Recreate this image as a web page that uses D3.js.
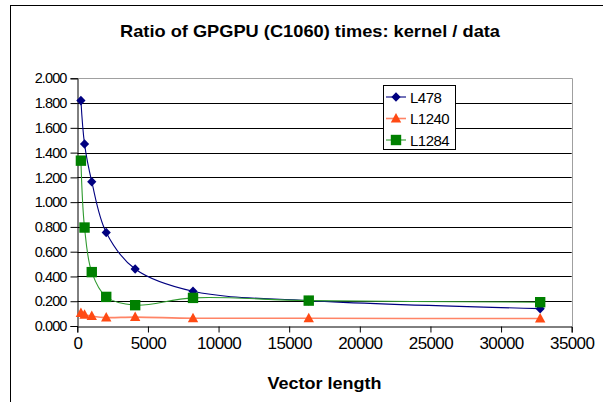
<!DOCTYPE html>
<html><head><meta charset="utf-8">
<script src="https://cdn.jsdelivr.net/npm/d3@7"></script>
<style>
html,body{margin:0;padding:0;background:#fff;}
svg{display:block;font-family:"Liberation Sans",Arial,sans-serif;}
</style></head>
<body>
<svg id="chart" width="603" height="402"></svg>
<script>
const vectorLength = [256, 512, 1024, 2048, 4096, 8192, 16384, 32768];
const L478  = [1.82, 1.47, 1.165, 0.755, 0.46, 0.28, 0.205, 0.14];
const L1240 = [0.105, 0.09, 0.08, 0.068, 0.072, 0.063, 0.062, 0.06];
const L1284 = [1.335, 0.795, 0.435, 0.235, 0.168, 0.227, 0.205, 0.192];
const seriesNames = ["L478", "L1240", "L1284"];
const xTicks = [0, 5000, 10000, 15000, 20000, 25000, 30000, 35000];
const yTicks = [0, 0.2, 0.4, 0.6, 0.8, 1.0, 1.2, 1.4, 1.6, 1.8, 2.0];
const titleText = "Ratio of GPGPU (C1060) times: kernel / data";
const xTitle = "Vector length";

const series = [
  {name: seriesNames[0], values: L478,  line: "#000080", fill: "#000080", shape: "diamond", lw: 1.1},
  {name: seriesNames[1], values: L1240, line: "#ff8466", fill: "#ff4a14", shape: "triangle", lw: 1.6},
  {name: seriesNames[2], values: L1284, line: "#2e9a2e", fill: "#008000", shape: "square", lw: 1.1}
];

const svg = d3.select("#chart");
const pLeft = 77.3, pRight = 571.7, pTop = 78.3, pBottom = 326;
const x = d3.scaleLinear().domain([0, 35000]).range([pLeft, pRight]);
const y = d3.scaleLinear().domain([0, 2]).range([pBottom, pTop]);

// chart border
svg.append("rect").attr("x", 10.5).attr("y", 5.5).attr("width", 600).attr("height", 500)
  .attr("fill", "none").attr("stroke", "#000").attr("stroke-width", 1);

// title
svg.append("text").attr("x", 310).attr("y", 37).attr("text-anchor", "middle")
  .attr("font-weight", "bold").attr("font-size", 17).attr("textLength", 380)
  .attr("lengthAdjust", "spacingAndGlyphs").text(titleText);

// gridlines
svg.append("g").selectAll("line").data(yTicks.filter(v => v > 0 && v < 2)).join("line")
  .attr("x1", pLeft).attr("x2", pRight)
  .attr("y1", d => Math.round(y(d)) + 0.5).attr("y2", d => Math.round(y(d)) + 0.5)
  .attr("stroke", "#000").attr("stroke-width", 1);

// plot border top/right (gray)
svg.append("path")
  .attr("d", `M${pLeft},${Math.round(pTop)+0.5}H${Math.round(pRight)+0.5}V${pBottom}`)
  .attr("fill", "none").attr("stroke", "#a0a0a0").attr("stroke-width", 1);

// axes
const xAxis = d3.axisBottom(x).tickValues(xTicks).tickFormat(d => String(d)).tickSize(6).tickPadding(6);
const gx = svg.append("g").attr("transform", `translate(0,${Math.round(pBottom)+0.5})`).call(xAxis);
gx.select(".domain").attr("stroke", "#000");
gx.selectAll(".tick line").attr("stroke", "#000");
gx.selectAll(".tick text").attr("font-size", 17).attr("fill", "#000")
  .attr("font-family", "Liberation Sans, Arial, sans-serif").attr("letter-spacing", -0.6)
  .attr("dy", "0.6em");

const yAxis = d3.axisLeft(y).tickValues(yTicks).tickFormat(d3.format(".3f")).tickSize(7).tickPadding(4);
const gy = svg.append("g").attr("transform", `translate(${Math.round(pLeft)+0.5},0)`).call(yAxis);
gy.select(".domain").attr("stroke", "#000");
gy.selectAll(".tick line").attr("stroke", "#000");
gy.selectAll(".tick text").attr("font-size", 14.5).attr("fill", "#000")
  .attr("font-family", "Liberation Sans, Arial, sans-serif").attr("letter-spacing", -0.9);

// x title
svg.append("text").attr("x", (pLeft + pRight) / 2).attr("y", 389).attr("text-anchor", "middle")
  .attr("font-weight", "bold").attr("font-size", 17).attr("textLength", 114)
  .attr("lengthAdjust", "spacingAndGlyphs").text(xTitle);

function markerPath(shape) {
  if (shape === "diamond") return "M0,-4.8L4.6,0L0,4.8L-4.6,0Z";
  if (shape === "triangle") return "M0,-5.5L5.2,4L-5.2,4Z";
  return "M-5.2,-5.2H5.2V5.2H-5.2Z";
}

const lineGen = d3.line().x(d => x(d[0])).y(d => y(d[1])).curve(d3.curveCatmullRom.alpha(0.5));

series.forEach(s => {
  const pts = vectorLength.map((v, i) => [v, s.values[i]]);
  svg.append("path").datum(pts).attr("d", lineGen).attr("fill", "none")
    .attr("stroke", s.line).attr("stroke-width", s.lw);
  svg.append("g").selectAll("path").data(pts).join("path")
    .attr("transform", d => `translate(${x(d[0])},${y(d[1])})`)
    .attr("d", markerPath(s.shape)).attr("fill", s.fill);
});

// legend
const lg = svg.append("g");
lg.append("rect").attr("x", 383.5).attr("y", 85.5).attr("width", 72).attr("height", 64)
  .attr("fill", "#fff").attr("stroke", "#000").attr("stroke-width", 1);
series.forEach((s, i) => {
  const cy = 97 + i * 21.5;
  lg.append("line").attr("x1", 386).attr("x2", 406).attr("y1", cy).attr("y2", cy)
    .attr("stroke", s.line).attr("stroke-width", s.lw);
  lg.append("path").attr("transform", `translate(396,${cy})`).attr("d", markerPath(s.shape)).attr("fill", s.fill);
  lg.append("text").attr("x", 410).attr("y", cy + 5.5).attr("font-size", 15)
    .attr("letter-spacing", -0.5).text(s.name);
});
</script>
</body></html>
